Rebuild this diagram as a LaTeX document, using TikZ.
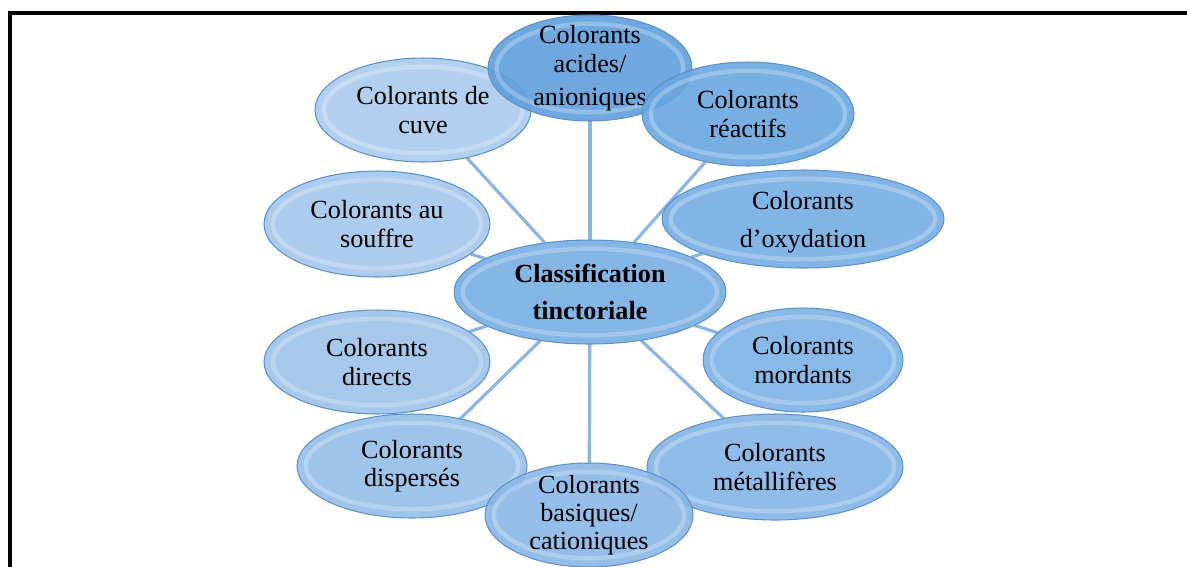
\documentclass[tikz,border=0pt]{standalone}
\usepackage{fontspec}
\setmainfont{Liberation Serif}
\usetikzlibrary{shapes.geometric,calc,backgrounds}

\definecolor{edgeblue}{HTML}{5E92C6}
\definecolor{linkblue}{HTML}{8AB6E6}
\definecolor{cCuve}{HTML}{A9CAEC}
\definecolor{cSoufre}{HTML}{A2C6EA}
\definecolor{cDirect}{HTML}{9CC2E9}
\definecolor{cDisp}{HTML}{94BEE8}
\definecolor{cBasic}{HTML}{88B7E6}
\definecolor{cMetal}{HTML}{82B4E5}
\definecolor{cMord}{HTML}{7CB1E4}
\definecolor{cOxyd}{HTML}{74ACE2}
\definecolor{cReact}{HTML}{69A6E0}
\definecolor{cAcid}{HTML}{5F9FDC}
\definecolor{cCls}{HTML}{76AEE2}

\tikzset{
  bubble/.style={ellipse, draw=edgeblue, line width=0.6pt, fill=#1, fill opacity=.9,
    text opacity=1, inner sep=0pt, outer sep=0pt,
    path picture={\draw[white, opacity=.25, line width=2.5pt]
      let \p1=(path picture bounding box.north east), \p2=(path picture bounding box.center)
      in (\p2) ellipse [x radius={\x1-\x2-5pt}, y radius={\y1-\y2-5pt}];}},
  txt/.style={align=center, font=\fontsize{14.9}{16}\selectfont, text opacity=1},
  link/.style={draw=linkblue, line width=1.8pt}
}

\begin{document}
\begin{tikzpicture}[x=0.02cm, y=-0.02cm]
    \useasboundingbox (0,0) rectangle (1187,566);

    % cadre
    \draw[line width=2.3pt] (10,580) -- (10,13) -- (1200,13);

    \node[bubble=cCuve, minimum width=4.32cm, minimum height=2.08cm,
          label={[txt]center:Colorants de\\cuve}] (cuve) at (423,110) {};
    \node[bubble=cAcid, minimum width=4.08cm, minimum height=2.12cm,
          label={[txt, font=\fontsize{14.9}{17}\selectfont]center:Colorants\\acides/\\[1.5pt]anioniques}] (acid) at (590,68) {};
    \node[bubble=cReact, minimum width=4.24cm, minimum height=2.08cm,
          label={[txt]center:Colorants\\réactifs}] (react) at (748,114) {};
    \node[bubble=cOxyd, minimum width=5.64cm, minimum height=1.96cm,
          label={[txt, yshift=-2pt]center:Colorants\\[5.5pt]d’oxydation}] (oxyd) at (803,219) {};
    \node[bubble=cSoufre, minimum width=4.52cm, minimum height=2.12cm,
          label={[txt]center:Colorants au\\souffre}] (soufre) at (377,224) {};

    \node[bubble=cCls, minimum width=5.44cm, minimum height=2.08cm,
          label={[txt, font=\fontsize{14.9}{16}\selectfont\bfseries]center:Classification\\[5.5pt]tinctoriale}] (cls) at (590,292) {};

    \node[bubble=cDirect, minimum width=4.52cm, minimum height=2.08cm,
          label={[txt]center:Colorants\\directs}] (direct) at (377,362) {};
    \node[bubble=cMord, minimum width=4.0cm, minimum height=2.08cm,
          label={[txt]center:Colorants\\mordants}] (mord) at (803,360) {};
    \node[bubble=cDisp, minimum width=4.6cm, minimum height=2.08cm,
          label={[txt]center:Colorants\\dispersés}] (disp) at (412,466) {};
    \node[bubble=cMetal, minimum width=5.12cm, minimum height=2.12cm,
          label={[txt]center:Colorants\\métallifères}] (metal) at (775,467) {};
    \node[bubble=cBasic, minimum width=4.16cm, minimum height=2.08cm,
          label={[txt]center:Colorants\\basiques/\\cationiques}] (basic) at (589,515) {};

    \begin{pgfonlayer}{background}
        \foreach \n in {cuve,acid,react,oxyd,soufre,direct,mord,disp,metal,basic}
            \draw[link] (cls) -- (\n);
    \end{pgfonlayer}
\end{tikzpicture}
\end{document}
